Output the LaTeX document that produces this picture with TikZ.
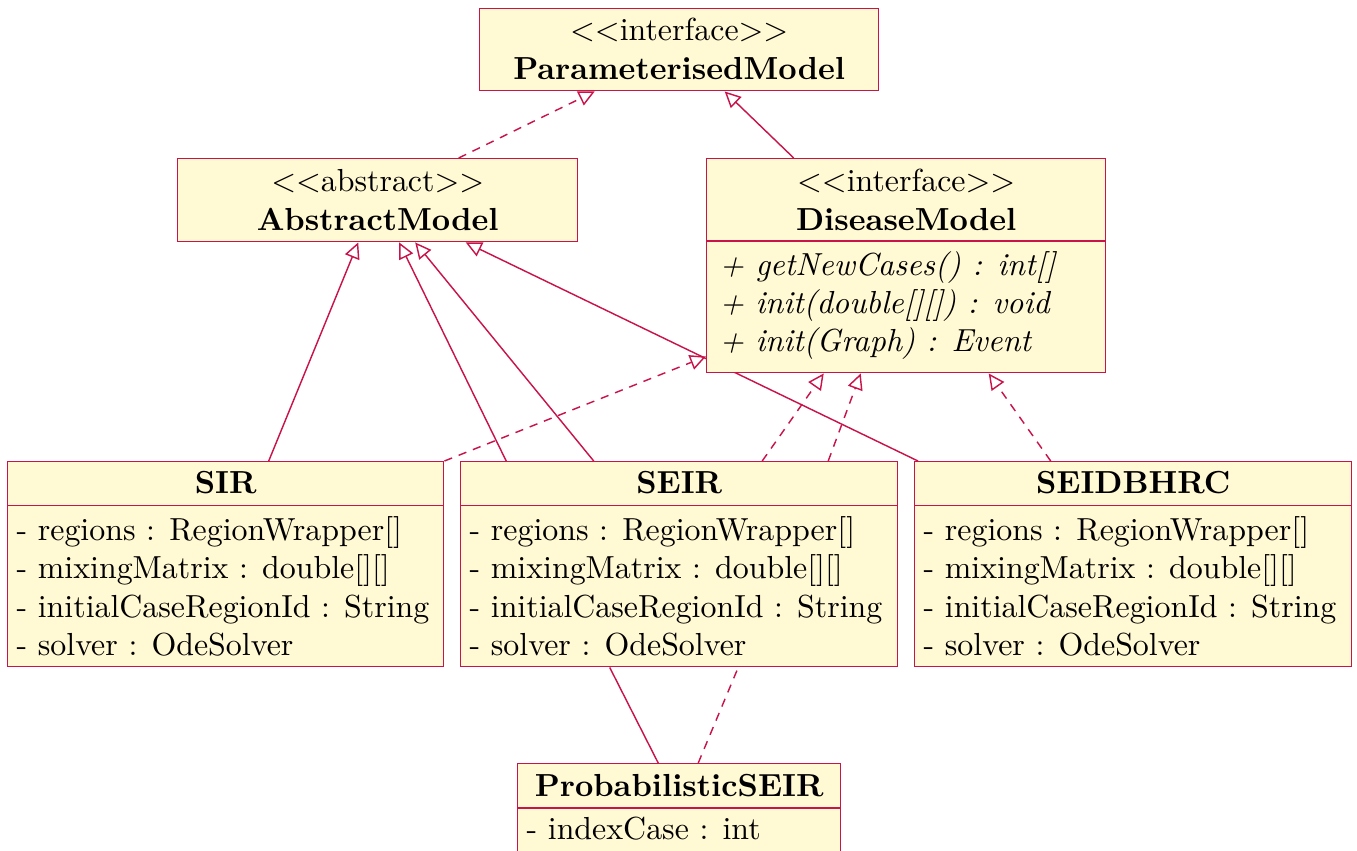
\documentclass[tikz,border=0pt]{standalone}
\usepackage{tikz}
\usetikzlibrary{arrows.meta,positioning,calc,backgrounds}
\definecolor{umlRed}{HTML}{C8144B}
\definecolor{umlFill}{HTML}{FFF9D4}

\begin{document}
\begin{tikzpicture}[
  x=0.3135pt, y=-0.3135pt,
  classbox/.style={rectangle, draw=umlRed, fill=umlFill, line width=0.45pt, inner sep=0pt, anchor=north west},
  classhead/.style={inner sep=0pt, align=center, anchor=base},
  memberlist/.style={inner sep=0pt, align=left, anchor=base west},
  divider/.style={draw=umlRed, line width=0.45pt},
  inherit/.style={draw=umlRed, line width=0.45pt, -{Triangle[open, length=5pt, width=4.8pt]}},
  realize/.style={inherit, dash pattern=on 2.6pt off 2.2pt},
  link/.style={draw=umlRed, line width=0.45pt},
  dashlink/.style={link, dash pattern=on 2.6pt off 2.2pt}
]
\useasboundingbox (0,0) rectangle (1357,850);

% interfaces and abstract class
\node[classbox, minimum width=125.09pt, minimum height=25.71pt] (param) at (479,8) {};
\node[classhead] (paramT) at ($(param.north)+(0,71)$) {$<<$interface$>>$\\\textbf{ParameterisedModel}};

\node[classbox, minimum width=125.4pt, minimum height=26.02pt] (abstract) at (177,158) {};
\node[classhead] (abstractT) at ($(abstract.north)+(0,72)$) {$<<$abstract$>>$\\\textbf{AbstractModel}};

\node[classbox, minimum width=125.09pt, minimum height=67.09pt] (disease) at (706,158) {};
\node[classhead] (diseaseT) at ($(disease.north)+(0,72)$) {$<<$interface$>>$\\\textbf{DiseaseModel}};
\draw[divider] ($(disease.north west)+(0,83)$) -- ($(disease.north east)+(0,83)$);
\node[memberlist, font=\itshape] (diseaseM) at ($(disease.north west)+(13,193.7)$) {+ getNewCases() : int[]\\+ init(double[][]) : void\\+ init(Graph) : Event};

% concrete models
\node[classbox, minimum width=136.68pt, minimum height=64.27pt] (sir) at (7,461) {};
\node[classhead] (sirT) at ($(sir.north)+(0,32.3)$) {\textbf{SIR}};
\draw[divider] ($(sir.north west)+(0,44.7)$) -- ($(sir.north east)+(0,44.7)$);
\node[memberlist] (sirM) at ($(sir.north west)+(9,194.5)$) {- regions : RegionWrapper[]\\- mixingMatrix : double[][]\\- initialCaseRegionId : String\\- solver : OdeSolver};

\node[classbox, minimum width=137pt, minimum height=64.27pt] (seir) at (460,461) {};
\node[classhead] (seirT) at ($(seir.north)+(0,32.3)$) {\textbf{SEIR}};
\draw[divider] ($(seir.north west)+(0,44.7)$) -- ($(seir.north east)+(0,44.7)$);
\node[memberlist] (seirM) at ($(seir.north west)+(9,194.5)$) {- regions : RegionWrapper[]\\- mixingMatrix : double[][]\\- initialCaseRegionId : String\\- solver : OdeSolver};

\node[classbox, minimum width=137pt, minimum height=64.27pt] (seidbhrc) at (914,461) {};
\node[classhead] (seidbhrcT) at ($(seidbhrc.north)+(0,32.3)$) {\textbf{SEIDBHRC}};
\draw[divider] ($(seidbhrc.north west)+(0,44.7)$) -- ($(seidbhrc.north east)+(0,44.7)$);
\node[memberlist] (seidbhrcM) at ($(seidbhrc.north west)+(9,194.5)$) {- regions : RegionWrapper[]\\- mixingMatrix : double[][]\\- initialCaseRegionId : String\\- solver : OdeSolver};

\node[classbox, minimum width=101.26pt, minimum height=27.9pt] (prob) at (517,763) {};
\node[classhead] (probT) at ($(prob.north)+(0,33.7)$) {\textbf{ProbabilisticSEIR}};
\draw[divider] ($(prob.north west)+(0,45)$) -- ($(prob.north east)+(0,45)$);
\node[memberlist] (probM) at ($(prob.north west)+(9,76.3)$) {- indexCase : int};

% relations
\begin{pgfonlayer}{background}
\draw[realize] ($(abstract.north)+(81,0)$) -- ($(param.south)+(-84.5,0)$);
\draw[inherit] ($(disease.north)+(-112.5,0)$) -- ($(param.south)+(45.5,0)$);
\draw[inherit] ($(sir.north)+(43,0)$) -- ($(abstract.south)+(-19.5,0)$);
\draw[inherit] ($(seir.north)+(-173,0)$) -- ($(abstract.south)+(21.5,0)$);
\draw[inherit] ($(seir.north)+(-85.5,0)$) -- ($(abstract.south)+(37.5,0)$);
\draw[inherit] ($(seidbhrc.north west)+(4,0)$) -- ($(abstract.south)+(88,0)$);
\draw[realize] (sir.north east) -- ($(disease.south west)+(0,-17)$);
\draw[realize] ($(seir.north)+(83,0)$) -- ($(disease.south)+(-82.5,0)$);
\draw[realize] ($(seir.north)+(149,0)$) -- ($(disease.south)+(-45.5,0)$);
\draw[realize] ($(seidbhrc.north)+(-82.5,0)$) -- ($(disease.south)+(82.5,0)$);
\draw[link] ($(prob.north)+(-21,0)$) -- ($(seir.south)+(-69.5,0)$);
\draw[dashlink] ($(prob.north)+(19,0)$) -- ($(seir.south)+(59,0)$);
\end{pgfonlayer}
\end{tikzpicture}
\end{document}
